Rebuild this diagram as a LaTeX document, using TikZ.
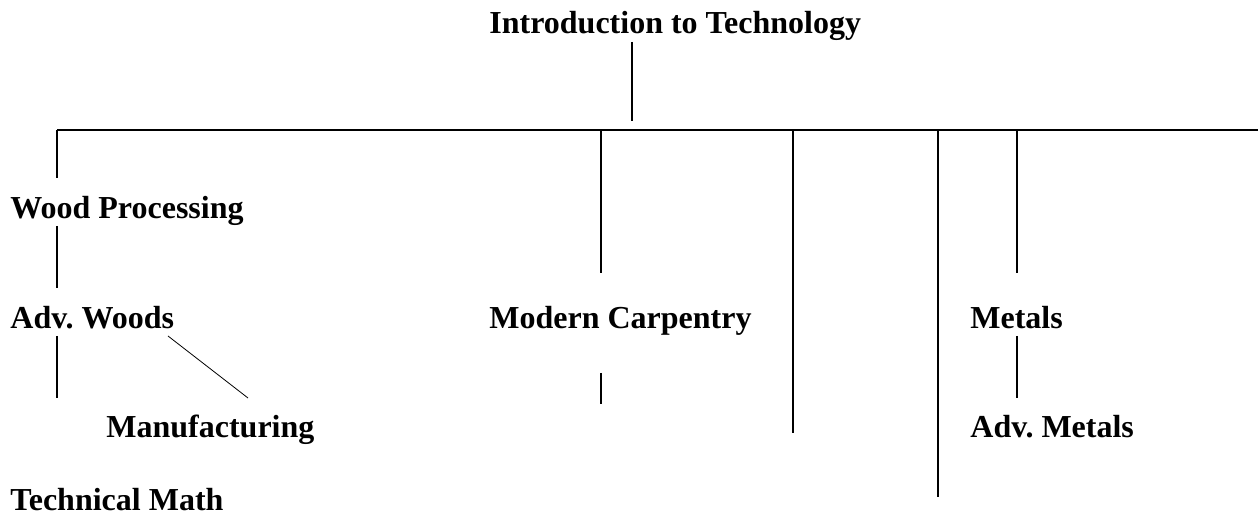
\documentclass[tikz,border=0pt]{standalone}
\usepackage{fontspec}
\setmainfont{Liberation Serif}
\frenchspacing
\begin{document}
\begin{tikzpicture}[x=0.5pt,y=-0.5pt,
    course/.style={font=\fontsize{16}{19}\selectfont\bfseries,inner sep=0pt,anchor=base west},
    link/.style={line width=1pt},
    thin link/.style={line width=0.4pt}]
    \useasboundingbox (0,0) rectangle (1258,517);
    % courses
    \node[course] (intro) at (489,34) {Introduction to Technology};
    \node[course] (wood) at (10,219) {Wood Processing};
    \node[course] (advwoods) at (10,329) {Adv. Woods};
    \node[course] (manuf) at (106,438) {Manufacturing};
    \node[course] (math) at (10,511) {Technical Math};
    \node[course] (carp) at (489,329) {Modern Carpentry};
    \node[course] (metals) at (970,329) {Metals};
    \node[course] (advmetals) at (970,438) {Adv. Metals};
    % bar and its drops
    \coordinate (stemtop) at (632,42);
    \coordinate (stembot) at (632,121);
    \coordinate (b1) at (57,130);
    \coordinate (b2) at (601,130);
    \coordinate (b3) at (793,130);
    \coordinate (b4) at (938,130);
    \coordinate (b5) at (1017,130);
    \coordinate (bend) at (1258,130);
    \coordinate (d1) at (57,178);
    \coordinate (d2) at (601,273);
    \coordinate (d3) at (793,433);
    \coordinate (d4) at (938,497);
    \coordinate (d5) at (1017,273);
    % lines under the courses
    \coordinate (w1) at (57,226);   \coordinate (w2) at (57,288);
    \coordinate (a1) at (57,336);   \coordinate (a2) at (57,398);
    \coordinate (c1) at (601,373);  \coordinate (c2) at (601,404);
    \coordinate (m1) at (1017,336); \coordinate (m2) at (1017,398);
    \coordinate (g1) at (168,336);  \coordinate (g2) at (248,398);
    \draw[link] (stemtop) -- (stembot);
    \draw[link] (b1) -- (bend);
    \draw[link] (b1) -- (d1);
    \draw[link] (b2) -- (d2);
    \draw[link] (b3) -- (d3);
    \draw[link] (b4) -- (d4);
    \draw[link] (b5) -- (d5);
    \draw[link] (w1) -- (w2);
    \draw[link] (a1) -- (a2);
    \draw[link] (c1) -- (c2);
    \draw[link] (m1) -- (m2);
    \draw[thin link] (g1) -- (g2);
\end{tikzpicture}
\end{document}
